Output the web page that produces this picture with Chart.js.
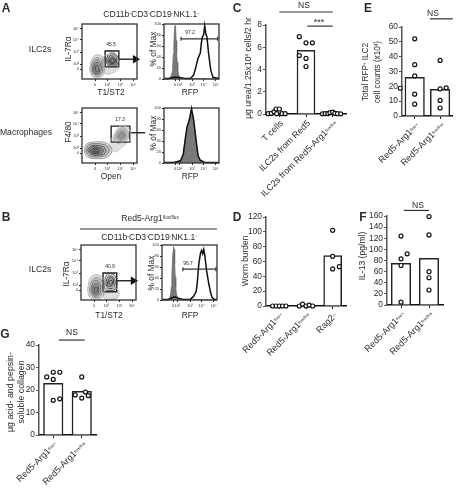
<!DOCTYPE html>
<html>
<head>
<meta charset="utf-8">
<title>ILC2 panels</title>
<script src="https://cdn.jsdelivr.net/npm/chart.js@4/dist/chart.umd.min.js"></script>
<style>
html, body { margin: 0; padding: 0; background: #fff; }
#page { position: relative; width: 458px; height: 488px; overflow: hidden; font-family: "Liberation Sans", Arial, sans-serif; color: #2a2a2a; }
canvas { position: absolute; left: 0; top: 0; }
.t { position: absolute; white-space: nowrap; line-height: 1; }
.t sup { font-size: 0.55em; line-height: 0; vertical-align: 0.45em; }
.t.cat sup { font-size: 0.45em; }
</style>
</head>
<body>
<div id="page"></div>
<script>
// bar panels
var cCats = ['T cells', 'ILC2s from Red5', 'ILC2s from Red5-Arg1^flox/flox'];
var cTicks = [0, 2, 4, 6, 8];
var cBars = [0, 5.72, 0];
var cDotsX = [-0.42, -0.3, -0.2, -0.12, -0.1, 0, 0.1, 0.22, 0.75, 1, 1.24, 0.75, 1, 1];
var cDotsY = [0.03, 0.05, 0.2, 0.45, 0.03, 0.45, 0.03, 0.03, 6.95, 6.4, 6.4, 5.25, 5.0, 4.27];
var cDots3X = [1.62, 1.72, 1.82, 1.9, 2.0, 2.08, 2.18, 2.3];
var cDots3Y = [0.02, 0.04, 0.03, 0.12, 0.16, 0.05, 0.03, 0.02];
var cNs = [[0, 9.17], [2, 9.17]];
var cStars = [[1.05, 7.9], [2, 7.9]];

var dCats = ['Red5-Arg1^flox/+', 'Red5-Arg1^flox/flox', 'Rag2^-/-'];
var dTicks = [0, 20, 40, 60, 80, 100, 120];
var dBars = [0, 0.4, 68];
var dDotsX = [-0.25, -0.12, 0, 0.12, 0.25, 0.75, 0.87, 1, 1.12, 1.25, 2, 2, 2, 2.25];
var dDotsY = [0, 0, 0, 0, 0, 0, 2.5, 0, 1.3, 0, 102, 67, 50, 53];

var eCats = ['Red5-Arg1^flox/+', 'Red5-Arg1^flox/flox'];
var eTicks = [0, 10, 20, 30, 40, 50, 60];
var eBars = [26, 18];
var eDotsX = [0, 0, 0, -0.57, 0, 0, 1, 1, 1.24, 1, 1];
var eDotsY = [52, 34.6, 27, 18.7, 14.7, 8, 37.5, 18.3, 19, 10.5, 5.4];
var eNs = [[0.6, 65.5], [1.5, 65.5]];

var fCats = ['Red5-Arg1^flox/+', 'Red5-Arg1^flox/flox'];
var fTicks = [0, 20, 40, 60, 80, 100, 120, 140, 160];
var fBars = [75, 84];
var fDotsX = [0, 0.22, 0, 0, 0, 1, 1, 1, 1, 1];
var fDotsY = [124, 92, 83, 71, 5, 159, 126, 60, 49, 27];
var fNs = [[0.1, 170], [1, 170]];

var gCats = ['Red5-Arg1^flox/+', 'Red5-Arg1^flox/flox'];
var gTicks = [0, 10, 20, 30, 40];
var gBars = [23, 19.4];
var gDotsX = [-0.23, 0, 0.23, 0, 0, 0.23, 1, 0.77, 1.13, 1, 1.23];
var gDotsY = [25.8, 27.9, 27.9, 24.7, 15.4, 16.1, 25.8, 17.8, 19.1, 16.4, 17.5];
var gNs = [[0.2, 42.2], [1.1, 42.2]];

// flow plots, in percent of the plot frame, outer loops first
var flowXTicks = [24, 46, 70, 93];
var flowXLabels = ['0', '10³', '10⁴', '10⁵'];
var flowYTicks = [18, 27, 49, 72, 92];
var flowYLabels = ['0', '10²', '10³', '10⁴', '10⁵'];
var histXTicks = [20, 28, 51, 72, 94];
var histXLabels = ['0', '10²', '10³', '10⁴', '10⁵'];
var histYTicks = [0, 20, 40, 60, 80, 100];

var a1Loops = [
  [[30, 26], [42, 43], [60, 42], [68, 24], [54, 10], [38, 12]],
  [[14, 18], [18, 36], [27, 44], [37, 40], [41, 24], [38, 7], [28, 2], [18, 6]],
  [[16, 19], [20, 33], [27, 39], [35, 35], [38, 22], [35, 8], [27, 5], [19, 9]],
  [[19, 20], [22, 31], [28, 35], [33, 30], [35, 19], [32, 9], [25, 8], [20, 12]],
  [[21, 19], [24, 28], [29, 30], [32, 22], [31, 12], [26, 10], [22, 13]],
  [[24, 18], [26, 25], [30, 23], [30, 15], [26, 13]],
  [[44, 36], [50, 46], [60, 46], [66, 36], [63, 25], [53, 23], [46, 27]],
  [[47, 36], [52, 43], [60, 43], [63, 35], [61, 27], [53, 26], [48, 29]],
  [[50, 35], [55, 40], [60, 37], [60, 30], [54, 28], [50, 30]],
  [[52, 34], [56, 37], [59, 34], [57, 30], [53, 30]]
];
var a1Gate = [[42, 22], [67, 22], [67, 51], [42, 51], [42, 22]];
var a1Arrow = [[67, 36], [97, 36]];

var a2Loops = [
  [[48, 30], [56, 48], [68, 66], [84, 64], [88, 44], [74, 30], [60, 20]],
  [[58, 42], [62, 56], [72, 64], [82, 60], [84, 46], [74, 38], [64, 36]],
  [[62, 46], [66, 56], [74, 60], [80, 54], [78, 44], [70, 42]],
  [[66, 48], [70, 55], [76, 54], [76, 47], [70, 45]],
  [[4, 20], [8, 34], [22, 38], [38, 38], [50, 32], [54, 20], [44, 10], [24, 8], [10, 11]],
  [[7, 22], [12, 33], [24, 35], [38, 34], [47, 29], [49, 20], [40, 13], [24, 11], [12, 14]],
  [[10, 23], [15, 30], [26, 32], [38, 30], [43, 25], [42, 18], [30, 14], [16, 16]],
  [[13, 23], [18, 29], [28, 29], [37, 26], [38, 20], [28, 16], [17, 18]],
  [[16, 23], [22, 27], [30, 26], [34, 22], [26, 18], [18, 20]],
  [[20, 23], [26, 25], [30, 22], [24, 20]]
];
var a2Gate = [[53, 38], [87, 38], [87, 67], [53, 67], [53, 38]];
var a2Arrow = [[87, 55], [115, 55]];

var b1Loops = [
  [[38, 10], [48, 22], [66, 20], [68, 6], [54, 1], [42, 3]],
  [[12, 20], [17, 40], [28, 46], [40, 40], [44, 20], [38, 5], [26, 1], [15, 6]],
  [[15, 20], [20, 36], [28, 41], [37, 36], [40, 20], [35, 7], [26, 4], [18, 9]],
  [[18, 20], [22, 33], [28, 36], [34, 31], [36, 19], [32, 9], [25, 7], [20, 12]],
  [[21, 19], [24, 28], [29, 30], [32, 22], [31, 12], [26, 10], [22, 13]],
  [[24, 18], [26, 24], [30, 22], [29, 15], [26, 13]],
  [[42, 30], [47, 46], [58, 47], [65, 36], [62, 20], [50, 17], [43, 21]],
  [[45, 30], [49, 42], [57, 43], [62, 34], [59, 23], [50, 21]],
  [[48, 30], [51, 39], [57, 40], [59, 32], [55, 25], [49, 25]],
  [[50, 30], [53, 36], [57, 34], [55, 27]]
];
var b1Gate = [[40, 15], [65, 15], [65, 49], [40, 49], [40, 15]];
var b1Arrow = [[65, 35], [95, 35]];

// histograms
var a1IsoX = [0, 9, 12, 14, 15, 16, 17, 18, 19, 20, 21, 22, 23, 24, 25, 27, 30, 100];
var a1IsoY = [0, 0, 3, 8, 14, 25, 45, 62, 85, 97, 94, 70, 48, 30, 15, 6, 1, 0];
var a1RfpX = [0, 8, 17, 26, 38, 48, 54, 58, 62, 66, 68, 70, 72, 74, 76, 78, 81, 85, 89, 100];
var a1RfpY = [1, 1, 3, 3, 1, 1, 7, 22, 38, 47, 66, 77, 80, 97, 82, 77, 47, 16, 3, 1];
var a1Bar = [[31, 73], [97.5, 73]];

var a2IsoX = [0, 18, 30, 35, 39, 42, 46, 50, 54, 58, 62, 66, 74, 100];
var a2IsoY = [1, 1, 4, 15, 44, 64, 76, 97, 76, 42, 12, 4, 1, 0];
var a2RfpX = [0, 18, 30, 35, 39, 42, 46, 50, 54, 58, 62, 66, 74, 100];
var a2RfpY = [1, 1, 4, 16, 46, 66, 78, 99, 78, 44, 13, 5, 1, 1];

var b1IsoX = [0, 11, 14, 16, 17, 18, 19, 20, 21, 22, 23, 24, 25, 26, 28, 31, 100];
var b1IsoY = [0, 0, 4, 12, 24, 45, 68, 88, 97, 92, 65, 42, 24, 12, 4, 1, 0];
var b1RfpX = [0, 12, 18, 24, 30, 38, 51, 57, 62, 64, 67, 70, 72, 74, 76, 78, 81, 85, 88, 91, 95, 100];
var b1RfpY = [1, 1, 4, 6, 3, 1, 1, 6, 15, 30, 66, 85, 90, 84, 92, 80, 54, 30, 15, 5, 1, 1];
var b1Bar = [[38, 56], [98, 56]];

var page = document.getElementById('page');
var W = 458, H = 488;
var INK = '#222';
var YGUTTER = 26;   // room for y tick labels, labels outside the scale box get clipped
var XGUTTER = 9;

function pts(xs, ys) {
  return xs.map(function(x, i) { return { x: x, y: ys[i] }; });
}

function xy(pairs) {
  return pairs.map(function(p) { return { x: p[0], y: p[1] }; });
}

function txt(html, x, y, size, opts) {
  opts = opts || {};
  var el = document.createElement('div');
  el.className = 't';
  el.innerHTML = html;
  el.style.left = x + 'px';
  el.style.top = y + 'px';
  el.style.fontSize = size + 'px';
  if (opts.bold) el.style.fontWeight = 'bold';
  el.style.transform = 'translate(-50%,-50%) rotate(' + (opts.rot || 0) + 'deg)';
  page.appendChild(el);
}

function supLabel(s) {
  var parts = s.split('^');
  return parts[1] ? parts[0] + '<sup>' + parts[1] + '</sup>' : parts[0];
}

function newCanvas() {
  var c = document.createElement('canvas');
  c.width = W;
  c.height = H;
  c.style.width = W + 'px';
  c.style.height = H + 'px';
  page.appendChild(c);
  return c;
}

// chart area sits exactly on the box, the gutters hold the axes
function baseOptions(box, yGutter, xGutter) {
  return {
    responsive: false,
    animation: false,
    events: [],
    layout: { padding: { left: box[0] - yGutter, top: box[1], right: W - box[2], bottom: H - box[3] - xGutter } },
    plugins: { legend: { display: false }, tooltip: { enabled: false } }
  };
}

function lineSet(data, color, width) {
  return {
    type: 'scatter', data: data, showLine: true, clip: false, order: 0,
    borderColor: color, borderWidth: width, pointRadius: 0, backgroundColor: 'transparent'
  };
}

/**
 * Bar panel with open circles for each animal
 */
function barPanel(box, cats, ticks, bars, dots, barWidth, extras) {
  var sets = [{
    type: 'bar', order: 2,
    data: bars.map(function(v, i) { return { x: i, y: v }; }),
    backgroundColor: '#fff', borderColor: INK, borderWidth: 1.5, barThickness: barWidth
  }];
  dots.forEach(function(d) {
    sets.push({
      type: 'scatter', order: 1, data: pts(d[0], d[1]), clip: false,
      pointRadius: 2, borderWidth: 1.2, borderColor: '#111', backgroundColor: '#fff'
    });
  });
  (extras || []).forEach(function(b) { sets.push(lineSet(xy(b), '#333', 1.2)); });
  var opt = baseOptions(box, YGUTTER, XGUTTER);
  opt.scales = {
    x: {
      type: 'linear', min: -0.5, max: cats.length - 0.5, offset: false,
      afterBuildTicks: function(s) { s.ticks = cats.map(function(c, i) { return { value: i }; }); },
      afterFit: function(s) { s.height = XGUTTER; },
      grid: { display: true, offset: false, drawOnChartArea: false, tickLength: 3, color: INK },
      border: { display: true, color: '#111', width: 1.5 },
      ticks: { display: false }
    },
    y: {
      min: ticks[0], max: ticks[ticks.length - 1],
      afterBuildTicks: function(s) { s.ticks = ticks.map(function(v) { return { value: v }; }); },
      afterFit: function(s) { s.width = YGUTTER; },
      grid: { display: true, drawOnChartArea: false, tickLength: 3, color: '#555' },
      border: { display: true, color: '#555', width: 1.5 },
      ticks: { color: '#2a2a2a', padding: 1, autoSkip: false, font: { family: 'Liberation Sans', size: 8.4 } }
    }
  };
  var chart = new Chart(newCanvas(), { type: 'bar', data: { datasets: sets }, options: opt });
  cats.forEach(function(c, i) {
    var el = document.createElement('div');
    el.className = 't cat';
    el.innerHTML = supLabel(c);
    el.style.fontSize = '9px';
    el.style.left = (chart.scales.x.getPixelForValue(i) + 3) + 'px';
    el.style.top = (chart.chartArea.bottom + 8) + 'px';
    el.style.transformOrigin = '100% 50%';
    el.style.transform = 'translate(-100%,-50%) rotate(-45deg)';
    page.appendChild(el);
  });
  return chart;
}

var frameBox = {
  id: 'frameBox',
  afterDraw: function(chart) {
    var a = chart.chartArea, ctx = chart.ctx;
    ctx.save();
    ctx.strokeStyle = '#333';
    ctx.lineWidth = 1.3;
    ctx.strokeRect(a.left, a.top, a.right - a.left, a.bottom - a.top);
    ctx.restore();
  }
};

function tinyAxes(xTicks, xLabels, yTicks, yLabels) {
  function lab(ticks, labels) {
    return function(v) {
      var i = ticks.indexOf(v);
      return i >= 0 ? labels[i] : '';
    };
  }
  var font = { family: 'Liberation Sans', size: 4 };
  return {
    x: {
      type: 'linear', min: 0, max: 100,
      afterBuildTicks: function(s) { s.ticks = xTicks.map(function(v) { return { value: v }; }); },
      afterFit: function(s) { s.height = XGUTTER; },
      grid: { display: true, drawOnChartArea: false, tickLength: 2, color: '#222' },
      border: { display: false },
      ticks: { color: '#333', padding: 1, maxRotation: 0, autoSkip: false, font: font, callback: lab(xTicks, xLabels) }
    },
    y: {
      min: 0, max: 100,
      afterBuildTicks: function(s) { s.ticks = yTicks.map(function(v) { return { value: v }; }); },
      afterFit: function(s) { s.width = 10; },
      grid: { display: true, drawOnChartArea: false, tickLength: 2, color: '#222' },
      border: { display: false },
      ticks: { color: '#333', padding: 1, autoSkip: false, font: font, callback: lab(yTicks, yLabels) }
    }
  };
}

/**
 * Contour plot, each loop is a closed smoothed line
 */
function flowPlot(box, loops, shades, gate, arrow) {
  var sets = [];
  loops.forEach(function(loop, i) {
    var s = lineSet(xy(loop.concat([loop[0]])), shades[i], 0.8);
    s.tension = 0.4;
    s.fill = 'shape';
    s.backgroundColor = 'rgba(50,50,50,0.16)';
    sets.push(s);
  });
  sets.push(lineSet(xy(gate), '#222', 1.4));
  var a = lineSet(xy(arrow), '#222', 1.4);
  a.pointRadius = [0, 3.5];
  a.pointStyle = 'triangle';
  a.pointRotation = 90;
  a.pointBackgroundColor = '#111';
  a.pointBorderColor = '#111';
  sets.push(a);
  var opt = baseOptions(box, 10, XGUTTER);
  opt.scales = tinyAxes(flowXTicks, flowXLabels, flowYTicks, flowYLabels);
  new Chart(newCanvas(), { type: 'scatter', data: { datasets: sets }, options: opt, plugins: [frameBox] });
}

/**
 * Histogram, isotype filled grey under the RFP line
 */
function histPlot(box, iso, rfp, bar) {
  var isoSet = lineSet(iso, '#666', 0.8);
  isoSet.fill = 'origin';
  isoSet.backgroundColor = '#7a7a7a';
  var sets = [isoSet];
  var r = lineSet(rfp, '#111', 1.5);
  r.order = -1;
  sets.push(r);
  if (bar) {
    var b = lineSet(xy(bar), '#333', 1.2);
    b.pointRadius = 2;
    b.pointStyle = 'line';
    b.pointRotation = 90;
    b.pointBorderColor = '#333';
    sets.push(b);
  }
  var opt = baseOptions(box, 10, XGUTTER);
  opt.scales = tinyAxes(histXTicks, histXLabels, histYTicks, histYTicks.map(String));
  new Chart(newCanvas(), { type: 'scatter', data: { datasets: sets }, options: opt, plugins: [frameBox] });
}

var gatedShades = ['#bbb', '#aaa', '#999', '#777', '#555', '#444', '#333', '#222', '#111', '#111'];
var macShades = ['#ccc', '#bbb', '#aaa', '#999', '#888', '#666', '#444', '#333', '#222', '#111'];

flowPlot([82, 24, 137, 79], a1Loops, gatedShades, a1Gate, a1Arrow);
histPlot([164, 24, 219, 79], pts(a1IsoX, a1IsoY), pts(a1RfpX, a1RfpY), a1Bar);
flowPlot([82, 108, 137, 163], a2Loops, macShades, a2Gate, a2Arrow);
histPlot([164, 108, 219, 163], pts(a2IsoX, a2IsoY), pts(a2RfpX, a2RfpY));
flowPlot([81, 245, 136, 300], b1Loops, gatedShades, b1Gate, b1Arrow);
histPlot([162, 245, 217, 300], pts(b1IsoX, b1IsoY), pts(b1RfpX, b1RfpY), b1Bar);

barPanel([266, 25, 346, 114], cCats, cTicks, cBars, [[cDotsX, cDotsY], [cDots3X, cDots3Y]], 18, [cNs, cStars]);
barPanel([266, 217, 346, 306], dCats, dTicks, dBars, [[dDotsX, dDotsY]], 18);
barPanel([402, 27, 458, 116], eCats, eTicks, eBars, [[eDotsX, eDotsY]], 19.5, [eNs]);
barPanel([387, 216, 443, 305], fCats, fTicks, fBars, [[fDotsX, fDotsY]], 19.5, [fNs]);
barPanel([39, 345, 96, 435], gCats, gTicks, gBars, [[gDotsX, gDotsY]], 19.5, [gNs]);

var sup = '<sup>-</sup>';
var gateTitle = 'CD11b' + sup + 'CD3' + sup + 'CD19' + sup + 'NK1.1' + sup;

txt('A', 6, 8, 12, { bold: true });
txt('B', 6, 217, 12, { bold: true });
txt('C', 237, 8, 12, { bold: true });
txt('D', 237, 217, 12, { bold: true });
txt('E', 368, 8, 12, { bold: true });
txt('F', 363, 217, 12, { bold: true });
txt('G', 5, 334, 12, { bold: true });

txt(gateTitle, 151, 14, 8.6);
txt('ILC2s', 40, 49, 8.6);
txt('Macrophages', 26, 132, 8.6);
txt('IL-7Rα', 68, 49, 8.4, { rot: -90 });
txt('F4/80', 68, 132, 8.4, { rot: -90 });
txt('T1/ST2', 111, 92, 8.4);
txt('Open', 111, 176, 8.4);
txt('RFP', 190, 92, 8.4);
txt('RFP', 190, 176, 8.4);
txt('% of Max', 153, 49, 8.4, { rot: -90 });
txt('% of Max', 153, 133, 8.4, { rot: -90 });
txt('45.5', 111, 44, 5);
txt('17.3', 120, 119, 5);
txt('97.2', 190, 32, 5);

txt('Red5-Arg1<sup>flox/flox</sup>', 150, 218, 8.6);
txt(gateTitle, 149, 237, 8.6);
txt('ILC2s', 40, 269, 8.6);
txt('IL-7Rα', 66, 274, 8.4, { rot: -90 });
txt('T1/ST2', 109, 315, 8.4);
txt('RFP', 190, 315, 8.4);
txt('% of Max', 151, 273, 8.4, { rot: -90 });
txt('40.9', 110, 266, 5);
txt('96.7', 188, 263, 5);

txt('NS', 304, 5, 8.6);
txt('***', 319, 22, 9);
txt('NS', 433, 13, 8.6);
txt('NS', 418, 205, 8.6);
txt('NS', 72, 332, 8.6);

txt('μg urea/1.25x10<sup>4</sup> cells/2 hr', 248, 68, 8.6, { rot: -90 });
txt('Worm burden', 245, 261, 8.4, { rot: -90 });
txt('Total RFP<sup>+</sup> ILC2', 366, 72, 8.2, { rot: -90 });
txt('cell counts (x10<sup>4</sup>)', 378, 72, 8.2, { rot: -90 });
txt('IL-13 (pg/ml)', 362, 256, 8.6, { rot: -90 });
txt('μg acid- and pepsin-', 10, 392, 8.8, { rot: -90 });
txt('soluble collagen', 21, 392, 8.8, { rot: -90 });

// separating rule under the B title
new Chart(newCanvas(), {
  type: 'scatter',
  data: { datasets: [lineSet(xy([[0, 0], [100, 0]]), '#333', 1.2)] },
  options: Object.assign(baseOptions([80, 228, 217, 229], 0, 0), {
    scales: {
      x: { min: 0, max: 100, display: false },
      y: { min: 0, max: 1, display: false }
    }
  })
});
</script>
</body>
</html>
